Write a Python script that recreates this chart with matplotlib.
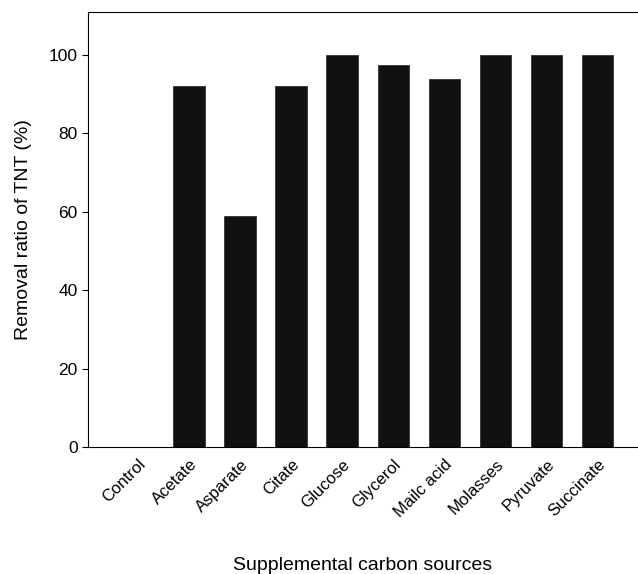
import matplotlib
matplotlib.use('Agg')
import matplotlib.pyplot as plt
import numpy as np

plt.rcParams['font.family'] = ['Liberation Sans', 'DejaVu Sans']

# valeurs
sources = ['Control', 'Acetate', 'Asparate', 'Citate', 'Glucose',
           'Glycerol', 'Mailc acid', 'Molasses', 'Pyruvate', 'Succinate']
removal = [0, 92, 59, 92, 100, 97.5, 94, 100, 100, 100]

fig = plt.figure(figsize=(6.38, 5.74), dpi=100)
ax = fig.add_axes([88/638, 127/574, 550/638, 435/574])

x = np.arange(len(sources))
ax.bar(x, removal, width=0.62, color='#111111', edgecolor='#333333', linewidth=0.6)

ax.set_xlim(-0.98, 9.79)
ax.set_ylim(0, 111)
ax.set_yticks([0, 20, 40, 60, 80, 100])
ax.set_xticks(x)
ax.set_xticklabels(sources, rotation=45, ha='right', rotation_mode='anchor', fontsize=12)
ax.tick_params(axis='x', length=0, pad=7)
ax.tick_params(axis='y', direction='out', length=4, labelsize=12.5)
ax.spines['right'].set_visible(False)

ax.set_ylabel('Removal ratio of TNT (%)', fontsize=14, labelpad=12)
ax.set_xlabel('Supplemental carbon sources', fontsize=14)
ax.xaxis.set_label_coords(0.5, -0.252)

fig.savefig('out.png', dpi=100)
